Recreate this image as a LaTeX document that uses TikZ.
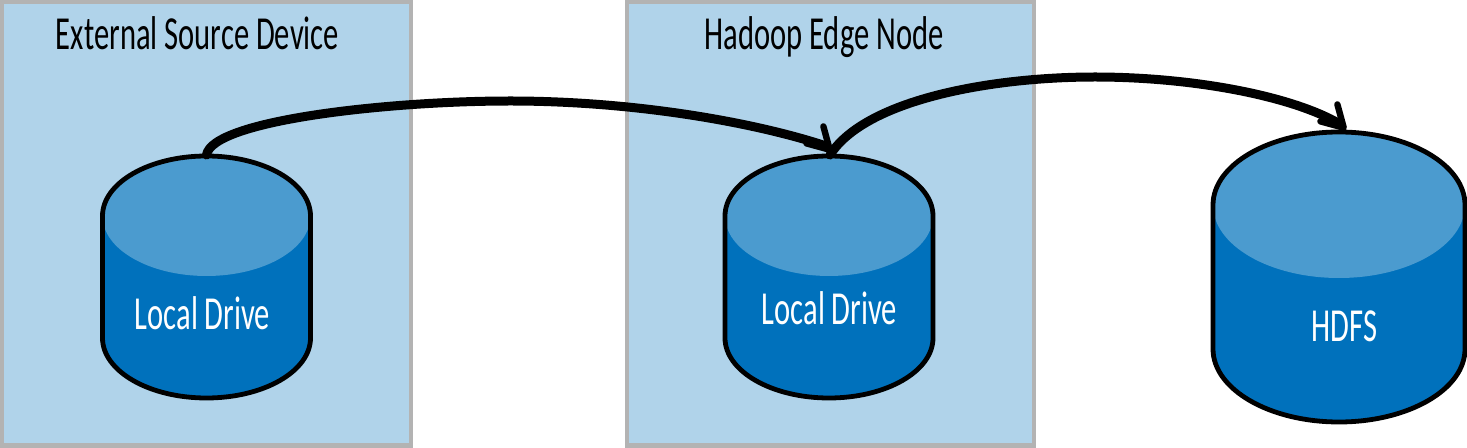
\documentclass[tikz,border=0pt]{standalone}
\usepackage{fontspec}
\setmainfont{Carlito}[FakeStretch=0.645]
\usetikzlibrary{arrows.meta}
\definecolor{boxfill}{HTML}{B0D3EA}
\definecolor{boxline}{HTML}{B3B3B3}
\definecolor{drivelight}{HTML}{4B9BCF}
\definecolor{drivedark}{HTML}{0071BC}
\tikzset{
	devbox/.style={draw=boxline, fill=boxfill, line width=2.2pt},
	drivebody/.style={fill=drivedark},
	drivetop/.style={fill=drivelight},
	driveline/.style={draw=black, line width=2.4pt},
	boxlabel/.style={anchor=base, font=\fontsize{23.7}{26}\selectfont, text=black},
	drivelabel/.style={anchor=base, font=\fontsize{23.7}{26}\selectfont, text=white},
	flow/.style={line width=4.5pt, line cap=round,
		-{Straight Barb[length=10.5pt, width=12pt, line width=3.2pt, round]}}
}
% cx, rx, ry, y of the top ellipse, y of the bottom ellipse
\newcommand{\drivecyl}[5]{
	\path[drivebody] (#1-#2,#4) arc[start angle=180, end angle=360, x radius=#2, y radius=#3]
		-- (#1+#2,#5) arc[start angle=0, end angle=180, x radius=#2, y radius=#3] -- cycle;
	\path[drivetop] (#1,#4) ellipse[x radius=#2, y radius=#3];
	\path[driveline] (#1-#2,#4) arc[start angle=180, end angle=360, x radius=#2, y radius=#3]
		-- (#1+#2,#5) arc[start angle=0, end angle=180, x radius=#2, y radius=#3] -- cycle;
}
\begin{document}
\begin{tikzpicture}[x=0.5pt, y=-0.5pt]
	\useasboundingbox (0,0) rectangle (1467,448);

	% the two machines
	\draw[devbox] (2,2) rectangle (411,445.5);
	\draw[devbox] (627,2) rectangle (1034,445.5);
	\node[boxlabel] (srclabel) at (197.5,50) {External Source Device};
	\node[boxlabel] (edgelabel) at (824,50) {Hadoop Edge Node};

	% the drives
	\drivecyl{206.5}{104}{60}{216}{338}
	\drivecyl{829}{104}{60}{216}{338}
	\drivecyl{1339}{126}{73}{205}{349}
	\node[drivelabel] (srcdrive) at (202.5,329.5) {Local Drive};
	\node[drivelabel] (edgedrive) at (829.5,325) {Local Drive};
	\node[drivelabel] (hdfs) at (1344.5,341.5) {HDFS};

	\coordinate (srctop) at (206.5,155);
	\coordinate (edgetop) at (832,152);
	\coordinate (edgeout) at (830,155);
	\coordinate (hdfstop) at (1346,130);
	\coordinate (srcpeak) at (510,101);
	\coordinate (hdfspeak) at (1095,77);
	\coordinate (edgenear) at (826,146);
	\coordinate (hdfsnear) at (1340,124);

	% the transfers
	\draw[flow] (srctop) .. controls (212,120) and (390,101) .. (srcpeak)
		.. controls (640,101) and (760,124) .. (edgenear) -- (edgetop);
	\draw[flow] (edgeout) .. controls (865,100) and (990,77) .. (hdfspeak)
		.. controls (1190,77) and (1290,95) .. (hdfsnear) -- (hdfstop);
\end{tikzpicture}
\end{document}
